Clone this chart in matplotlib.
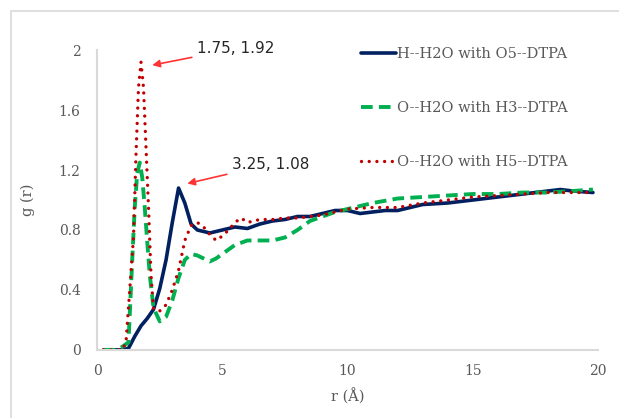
import matplotlib.pyplot as plt
from matplotlib.patches import Rectangle

# g(r)
r_blue = [0.25, 0.5, 0.75, 1.0, 1.25, 1.5, 1.75, 2.0, 2.25, 2.5, 2.75, 3.0, 3.25, 3.5,
          3.75, 4.0, 4.25, 4.5, 4.75, 5.0, 5.5, 6.0, 6.5, 7.0, 7.5, 8.0, 8.5, 9.0, 9.5,
          10.0, 10.5, 11.0, 11.5, 12.0, 12.5, 13.0, 14.0, 15.0, 16.0, 17.0, 18.0, 18.5, 19.0, 19.8]
g_blue = [0.0, 0.0, 0.0, 0.0, 0.01, 0.09, 0.16, 0.21, 0.27, 0.41, 0.6, 0.85, 1.08, 0.98,
          0.84, 0.8, 0.79, 0.78, 0.79, 0.8, 0.82, 0.81, 0.84, 0.86, 0.87, 0.89, 0.89, 0.91, 0.93,
          0.93, 0.91, 0.92, 0.93, 0.93, 0.95, 0.97, 0.98, 1.0, 1.02, 1.04, 1.06, 1.07, 1.06, 1.05]

r_green = [0.25, 0.5, 0.75, 1.0, 1.25, 1.4, 1.5, 1.6, 1.7, 1.8, 1.9, 2.0, 2.1, 2.25, 2.5,
           2.75, 3.0, 3.25, 3.5, 3.75, 4.0, 4.25, 4.5, 4.75, 5.0, 5.5, 6.0, 6.5, 7.0, 7.5,
           8.0, 8.5, 9.0, 9.5, 10.0, 10.5, 11.0, 12.0, 13.0, 14.0, 15.0, 16.0, 17.0, 18.0, 19.0, 19.8]
g_green = [0.0, 0.0, 0.0, 0.02, 0.05, 0.6, 0.95, 1.18, 1.25, 1.15, 0.95, 0.72, 0.5, 0.28, 0.19,
           0.22, 0.33, 0.48, 0.6, 0.64, 0.63, 0.61, 0.59, 0.61, 0.64, 0.7, 0.73, 0.73, 0.73, 0.75,
           0.8, 0.86, 0.89, 0.92, 0.94, 0.96, 0.98, 1.01, 1.02, 1.03, 1.04, 1.04, 1.05, 1.05, 1.06, 1.07]

r_red = [0.25, 0.5, 0.75, 1.0, 1.15, 1.3, 1.45, 1.55, 1.65, 1.75, 1.85, 1.95, 2.05, 2.15,
         2.25, 2.5, 2.75, 3.0, 3.25, 3.5, 3.75, 4.0, 4.25, 4.5, 4.75, 5.0, 5.25, 5.5, 5.75,
         6.0, 6.5, 7.0, 7.5, 8.0, 8.5, 9.0, 9.5, 10.0, 11.0, 12.0, 13.0, 14.0, 15.0, 16.0,
         17.0, 18.0, 19.0, 19.8]
g_red = [0.0, 0.0, 0.0, 0.0, 0.05, 0.4, 0.75, 1.3, 1.75, 1.92, 1.75, 1.35, 0.95, 0.5,
         0.27, 0.26, 0.3, 0.4, 0.53, 0.73, 0.83, 0.85, 0.82, 0.77, 0.73, 0.76, 0.8, 0.85, 0.88,
         0.85, 0.87, 0.87, 0.88, 0.88, 0.89, 0.9, 0.92, 0.94, 0.95, 0.95, 0.98, 1.0, 1.02, 1.03,
         1.04, 1.05, 1.05, 1.05]

labels = ["H--H2O with O5--DTPA", "O--H2O with H3--DTPA", "O--H2O with H5--DTPA"]
x_ticks = [0, 5, 10, 15, 20]
y_ticks = [0, 0.4, 0.8, 1.2, 1.6, 2]

plt.rcParams["font.family"] = ["DejaVu Serif"]

fig = plt.figure(figsize=(6.19, 4.18), dpi=100)
ax = fig.add_axes([0.157, 0.163, 0.809, 0.717])

# chart frame (only top and left edges fall inside the image)
fig.patches.append(Rectangle((11 / 619, -0.1), 1.2, 1 - 11 / 418 + 0.1,
                             transform=fig.transFigure, fill=False,
                             edgecolor="#d9d9d9", lw=1.2))

ax.plot(r_blue, g_blue, color="#002060", lw=2.6, solid_capstyle="round", label=labels[0])
ax.plot(r_green, g_green, color="#00B050", lw=2.8, ls=(0, (3, 1.6)), label=labels[1])
ax.plot(r_red, g_red, color="#C00000", lw=2.4, ls=(0, (0.01, 2.3)),
        dash_capstyle="round", label=labels[2])

ax.set_xlim(0, 20)
ax.set_ylim(0, 2)
ax.set_xticks(x_ticks)
ax.set_yticks(y_ticks)
ax.set_yticklabels(["0", "0.4", "0.8", "1.2", "1.6", "2"])
ax.tick_params(length=0, labelsize=10, colors="#595959", pad=12)
ax.tick_params(axis="x", pad=10)
for s in ["top", "right"]:
    ax.spines[s].set_visible(False)
for s in ["left", "bottom"]:
    ax.spines[s].set_color("#d9d9d9")
    ax.spines[s].set_linewidth(1.5)

ax.set_xlabel("r (Å)", fontsize=10.5, color="#595959", labelpad=8)
ax.set_ylabel("g (r)", fontsize=10.5, color="#595959", labelpad=17)

ax.legend(loc="upper left", bbox_to_anchor=(0.5, 1.055), frameon=False,
          fontsize=10.5, labelcolor="#595959", handlelength=2.4, handletextpad=0.1,
          labelspacing=2.75)

ax.annotate("1.75, 1.92", xy=(2.2, 1.9), xytext=(4.0, 2.01),
            fontsize=11, family="DejaVu Sans", color="#262626", va="center",
            arrowprops=dict(arrowstyle="-|>", color="#ff3333", lw=1.2,
                            shrinkA=2, shrinkB=0))
ax.annotate("3.25, 1.08", xy=(3.6, 1.11), xytext=(5.4, 1.24),
            fontsize=11, family="DejaVu Sans", color="#262626", va="center",
            arrowprops=dict(arrowstyle="-|>", color="#ff3333", lw=1.2,
                            shrinkA=2, shrinkB=0))

fig.savefig("out.png", dpi=100)
